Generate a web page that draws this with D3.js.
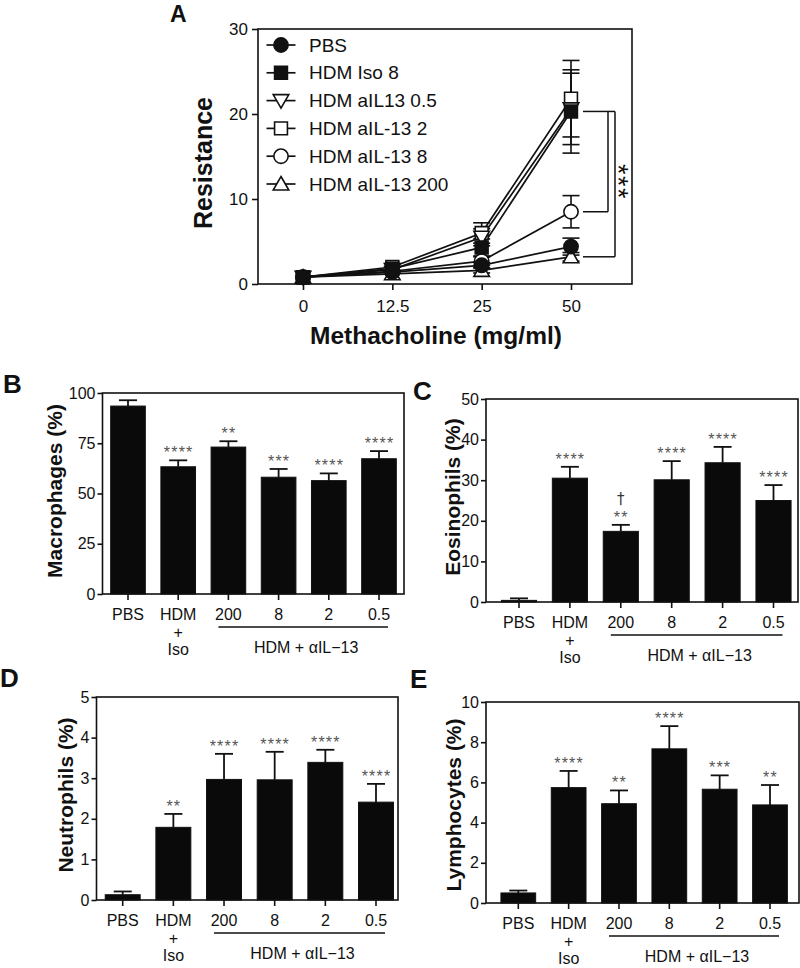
<!DOCTYPE html>
<html><head><meta charset="utf-8">
<script src="https://cdn.jsdelivr.net/npm/d3@7"></script>
<style>
body{margin:0;background:#fff}
svg{display:block}
text{font-family:"Liberation Sans",Arial,Helvetica,sans-serif;fill:#111}
</style>
</head><body>
<svg id="chart" width="800" height="968"></svg>
<script>
// ---------- Panel A data ----------
const doses = ["0", "12.5", "25", "50"];
const resTicks = [0, 10, 20, 30];
const seriesNames = ["PBS", "HDM Iso 8", "HDM aIL13 0.5", "HDM aIL-13 2", "HDM aIL-13 8", "HDM aIL-13 200"];
const resPBS   = [0.8, 1.4, 2.2, 4.4];
const semPBS   = [0.1, 0.2, 0.3, 1.0];
const resIso8  = [0.8, 1.8, 4.3, 20.3];
const semIso8  = [0.1, 0.3, 1.0, 4.9];
const resAb05  = [0.8, 1.7, 5.5, 20.6];
const semAb05  = [0.1, 0.3, 1.0, 4.2];
const resAb2   = [0.8, 2.0, 6.0, 21.8];
const semAb2   = [0.1, 0.4, 1.2, 4.5];
const resAb8   = [0.8, 1.5, 2.7, 8.5];
const semAb8   = [0.1, 0.2, 0.5, 1.9];
const resAb200 = [0.8, 1.2, 1.6, 3.2];
const semAb200 = [0.1, 0.2, 0.3, 0.5];
const sigLabelA = "***";

// ---------- Bar panel data ----------
const groups = ["PBS", "HDM+Iso", "200", "8", "2", "0.5"];
const groupLabel = "HDM + \u03B1IL\u221213";

const macTicks = [0, 25, 50, 75, 100];
const macMean  = [93.5, 63.3, 73.1, 58.1, 56.4, 67.3];
const macSem   = [2.9, 3.2, 2.9, 4.1, 3.6, 3.8];
const macStars = ["", "****", "**", "***", "****", "****"];

const eosTicks = [0, 10, 20, 30, 40, 50];
const eosMean  = [0.4, 30.5, 17.4, 30.1, 34.3, 25.0];
const eosSem   = [0.5, 2.8, 1.6, 4.6, 3.9, 3.8];
const eosStars = ["", "****", "**", "****", "****", "****"];
const eosDagger = ["", "", "\u2020", "", "", ""];

const neuTicks = [0, 1, 2, 3, 4, 5];
const neuMean  = [0.13, 1.79, 2.97, 2.96, 3.39, 2.41];
const neuSem   = [0.08, 0.33, 0.63, 0.69, 0.31, 0.45];
const neuStars = ["", "**", "****", "****", "****", "****"];

const lymTicks = [0, 2, 4, 6, 8, 10];
const lymMean  = [0.5, 5.74, 4.94, 7.67, 5.66, 4.88];
const lymSem   = [0.12, 0.83, 0.66, 1.13, 0.69, 0.99];
const lymStars = ["", "****", "**", "****", "***", "**"];

// ---------- drawing ----------
const svg = d3.select("#chart");
const INK = "#111";
const fmt = d3.format("~g");

function styleAxis(g, fs) {
  g.select(".domain").remove();
  g.selectAll(".tick line").attr("stroke", INK).attr("stroke-width", 1.6);
  g.selectAll(".tick text").attr("font-size", fs).attr("fill", INK)
    .style("font-family", '"Liberation Sans",Arial,sans-serif');
}

// ===== Panel A =====
(function () {
  const L = 258, R = 632, T = 29, B = 284;
  const x = d3.scalePoint().domain(doses).range([303, 571]);
  const y = d3.scaleLinear().domain([0, 30]).range([B, T]);
  const g = svg.append("g");

  const series = [
    {name: seriesNames[0], v: resPBS,   e: semPBS,   sym: d3.symbolCircle,   rot: 0,   fill: INK},
    {name: seriesNames[1], v: resIso8,  e: semIso8,  sym: d3.symbolSquare,   rot: 0,   fill: INK},
    {name: seriesNames[2], v: resAb05,  e: semAb05,  sym: d3.symbolTriangle, rot: 180, fill: "#fff"},
    {name: seriesNames[3], v: resAb2,   e: semAb2,   sym: d3.symbolSquare,   rot: 0,   fill: "#fff"},
    {name: seriesNames[4], v: resAb8,   e: semAb8,   sym: d3.symbolCircle,   rot: 0,   fill: "#fff"},
    {name: seriesNames[5], v: resAb200, e: semAb200, sym: d3.symbolTriangle, rot: 0,   fill: "#fff"}
  ];
  const symSize = s => s.sym === d3.symbolTriangle ? 105 : (s.sym === d3.symbolSquare ? 165 : 160);

  const yAx = g.append("g").attr("transform", `translate(${L},0)`)
    .call(d3.axisLeft(y).tickValues(resTicks).tickSize(6).tickPadding(4));
  styleAxis(yAx, 17);
  const xAx = g.append("g").attr("transform", `translate(0,${B})`)
    .call(d3.axisBottom(x).tickSize(6).tickPadding(10));
  styleAxis(xAx, 17);

  const drawOrder = [5, 4, 3, 2, 1, 0];
  const line = d3.line().x((d, i) => x(doses[i])).y(d => y(d));
  drawOrder.forEach(k => {
    const s = series[k];
    g.append("path").attr("d", line(s.v)).attr("fill", "none")
      .attr("stroke", INK).attr("stroke-width", 1.7);
  });
  drawOrder.forEach(k => {
    const s = series[k];
    s.v.forEach((v, i) => {
      const cx = x(doses[i]);
      if (s.e[i] > 0.25) {
        g.append("line").attr("x1", cx).attr("x2", cx).attr("y1", y(v - s.e[i])).attr("y2", y(v + s.e[i]))
          .attr("stroke", INK).attr("stroke-width", 1.6);
        [v - s.e[i], v + s.e[i]].forEach(w => g.append("line")
          .attr("x1", cx - 8.5).attr("x2", cx + 8.5).attr("y1", y(w)).attr("y2", y(w))
          .attr("stroke", INK).attr("stroke-width", 1.6));
      }
    });
  });
  drawOrder.forEach(k => {
    const s = series[k];
    s.v.forEach((v, i) => {
      g.append("path").attr("d", d3.symbol(s.sym, symSize(s))())
        .attr("transform", `translate(${x(doses[i])},${y(v) + (s.sym === d3.symbolTriangle ? (s.rot ? -1.5 : 1.5) : 0)}) rotate(${s.rot})`)
        .attr("fill", s.fill).attr("stroke", INK).attr("stroke-width", 1.6);
    });
  });

  g.append("rect").attr("x", L).attr("y", T).attr("width", R - L).attr("height", B - T)
    .attr("fill", "none").attr("stroke", INK).attr("stroke-width", 1.6);

  // legend
  series.forEach((s, i) => {
    const ly = 45 + i * 27.8;
    g.append("line").attr("x1", 266.5).attr("x2", 295.5).attr("y1", ly).attr("y2", ly)
      .attr("stroke", INK).attr("stroke-width", 1.7);
    g.append("path").attr("d", d3.symbol(s.sym, symSize(s))())
      .attr("transform", `translate(281,${ly + (s.sym === d3.symbolTriangle ? (s.rot ? -1.5 : 1.5) : 0)}) rotate(${s.rot})`)
      .attr("fill", s.fill).attr("stroke", INK).attr("stroke-width", 1.6);
    g.append("text").attr("x", 309).attr("y", ly).attr("dy", "0.35em")
      .attr("font-size", 19).text(s.name);
  });

  // significance bracket at 50
  const xb0 = 583, xb1 = 608, xb2 = 615;
  const yTop = y(resIso8[3]), yMid = y(resAb8[3]), yLow = y(resAb200[3]);
  const br = [
    [xb0, yTop, xb2, yTop], [xb0, yMid, xb1, yMid], [xb1, yTop, xb1, yMid],
    [xb2, yTop, xb2, yLow], [xb0, yLow, xb2, yLow]
  ];
  br.forEach(b => g.append("line").attr("x1", b[0]).attr("y1", b[1]).attr("x2", b[2]).attr("y2", b[3])
    .attr("stroke", INK).attr("stroke-width", 1.5));
  g.append("text").attr("transform", `translate(609,${(yTop + yLow) / 2 - 2}) rotate(90)`)
    .attr("text-anchor", "middle").attr("font-size", 27).attr("letter-spacing", 1.5).text(sigLabelA);

  // titles
  g.append("text").attr("transform", "translate(203,163) rotate(-90)")
    .attr("text-anchor", "middle").attr("dy", "0.35em").attr("font-size", 25).attr("font-weight", "bold")
    .text("Resistance");
  g.append("text").attr("x", 436).attr("y", 344).attr("text-anchor", "middle")
    .attr("font-size", 24.5).attr("font-weight", "bold").text("Methacholine (mg/ml)");
  g.append("text").attr("x", 170).attr("y", 22).attr("font-size", 23).attr("font-weight", "bold").text("A");
})();

// ===== Bar panels =====
function barPanel(cfg) {
  const g = svg.append("g");
  const s = (cfg.cN - cfg.c0) / 5;
  const x = d3.scaleBand().domain(groups).range([cfg.c0 - s / 2, cfg.cN + s / 2])
    .paddingInner(0.31).paddingOuter(0.155);
  const y = d3.scaleLinear().domain([0, cfg.max]).range([cfg.B, cfg.T]);
  const B = cfg.B;

  const yAx = g.append("g").attr("transform", `translate(${cfg.L},0)`)
    .call(d3.axisLeft(y).tickValues(cfg.ticks).tickFormat(fmt).tickSize(5).tickPadding(2));
  styleAxis(yAx, 16);
  const xAx = g.append("g").attr("transform", `translate(0,${B})`)
    .call(d3.axisBottom(x).tickSize(6).tickFormat(d => d === "HDM+Iso" ? "HDM" : d));
  styleAxis(xAx, 16);
  xAx.selectAll(".tick text").attr("y", 26).attr("dy", 0);

  const cx = d => x(d) + x.bandwidth() / 2;
  groups.forEach((gname, i) => {
    const m = cfg.mean[i], e = cfg.sem[i];
    g.append("line").attr("x1", cx(gname)).attr("x2", cx(gname)).attr("y1", y(m)).attr("y2", y(m + e))
      .attr("stroke", INK).attr("stroke-width", 1.8);
    g.append("line").attr("x1", cx(gname) - 9).attr("x2", cx(gname) + 9).attr("y1", y(m + e)).attr("y2", y(m + e))
      .attr("stroke", INK).attr("stroke-width", 1.8);
    g.append("rect").attr("x", x(gname)).attr("width", x.bandwidth())
      .attr("y", y(m)).attr("height", B - y(m))
      .attr("fill", "#0a0a0a").attr("stroke", INK).attr("stroke-width", 1);
    if (cfg.stars[i]) {
      g.append("text").attr("x", cx(gname) + 0.5).attr("y", y(m + e) - 2).attr("text-anchor", "middle")
        .attr("font-size", 16).attr("letter-spacing", 1.2).style("fill", "#555").text(cfg.stars[i]);
    }
    if (cfg.dagger && cfg.dagger[i]) {
      g.append("text").attr("x", cx(gname)).attr("y", y(m + e) - 21).attr("text-anchor", "middle")
        .attr("font-size", 15).style("font-family", '"DejaVu Sans",sans-serif')
        .style("fill", "#333").text(cfg.dagger[i]);
    }
  });

  g.append("rect").attr("x", cfg.L).attr("y", cfg.T).attr("width", cfg.R - cfg.L).attr("height", B - cfg.T)
    .attr("fill", "none").attr("stroke", INK).attr("stroke-width", 1.6);

  // HDM + Iso stacked label
  const hx = cx("HDM+Iso");
  g.append("text").attr("x", hx).attr("y", B + 44).attr("text-anchor", "middle").attr("font-size", 16).text("+");
  g.append("text").attr("x", hx).attr("y", B + 61).attr("text-anchor", "middle").attr("font-size", 16).text("Iso");
  // antibody group line + label
  const lx0 = cx("200") - 10, lx1 = cx("0.5") + 9;
  g.append("line").attr("x1", lx0).attr("x2", lx1).attr("y1", B + 33).attr("y2", B + 33)
    .attr("stroke", INK).attr("stroke-width", 1.6);
  g.append("text").attr("x", (lx0 + lx1) / 2 + 3).attr("y", B + 59).attr("text-anchor", "middle")
    .attr("font-size", 16).text(groupLabel);

  // y title
  g.append("text").attr("transform", `translate(${cfg.ylx},${cfg.yly}) rotate(-90)`)
    .attr("text-anchor", "middle").attr("dy", "0.35em").attr("font-size", 21).attr("font-weight", "bold")
    .text(cfg.title);
  // panel letter
  g.append("text").attr("x", cfg.letterX).attr("y", cfg.letterY).attr("font-size", 26)
    .attr("font-weight", "bold").text(cfg.letter);
}

barPanel({letter: "B", letterX: 3, letterY: 393, title: "Macrophages (%)", ylx: 55, yly: 491,
  L: 102.5, R: 404, T: 393, B: 594, c0: 128, cN: 379, max: 100, ticks: macTicks,
  mean: macMean, sem: macSem, stars: macStars});
barPanel({letter: "C", letterX: 413, letterY: 400, title: "Eosinophils (%)", ylx: 453, yly: 497,
  L: 486, R: 798, T: 399, B: 602, c0: 519, cN: 773.5, max: 50, ticks: eosTicks,
  mean: eosMean, sem: eosSem, stars: eosStars, dagger: eosDagger});
barPanel({letter: "D", letterX: 0, letterY: 687, title: "Neutrophils (%)", ylx: 66, yly: 795,
  L: 96.5, R: 398, T: 697, B: 900, c0: 122.7, cN: 376, max: 5, ticks: neuTicks,
  mean: neuMean, sem: neuSem, stars: neuStars});
barPanel({letter: "E", letterX: 410, letterY: 688, title: "Lymphocytes (%)", ylx: 454, yly: 805,
  L: 486, R: 799, T: 702, B: 903, c0: 518.3, cN: 770, max: 10, ticks: lymTicks,
  mean: lymMean, sem: lymSem, stars: lymStars});
</script>
</body></html>
